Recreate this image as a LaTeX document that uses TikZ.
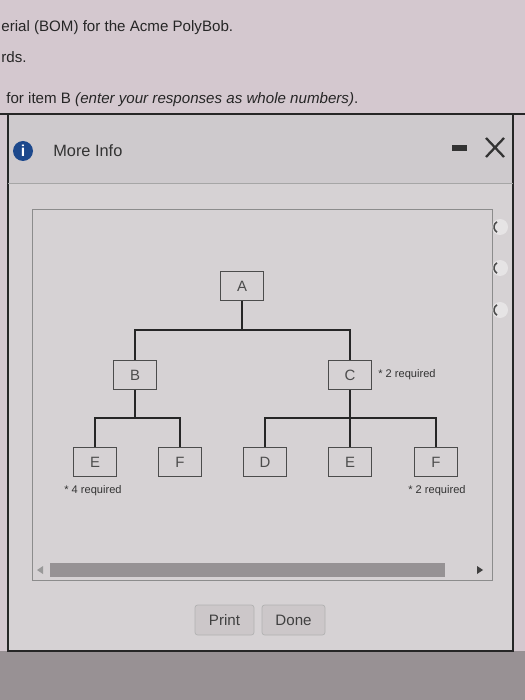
\documentclass[tikz,border=0pt]{standalone}
\usepackage{fontspec}
\setmainfont{Liberation Sans}
\usetikzlibrary{positioning}
\definecolor{pagebg}{RGB}{212,200,207}
\definecolor{headbg}{RGB}{206,202,205}
\definecolor{dlgbg}{RGB}{214,210,212}
\definecolor{outerbg}{RGB}{152,145,148}
\definecolor{infoblue}{RGB}{28,72,140}
\definecolor{thumbc}{RGB}{150,146,148}
\definecolor{btnfill}{RGB}{204,199,201}

\begin{document}
\begin{tikzpicture}[x=0.2mm,y=-0.2mm,
  partbox/.style={draw=black!70,line width=0.5pt,fill=dlgbg,minimum width=8.6mm,minimum height=5.8mm,inner sep=0pt,font=\fontsize{8.5}{10}\selectfont,text=black!70},
  link/.style={line width=1.1pt,draw=black!85},
  note/.style={anchor=west,inner sep=0pt,font=\fontsize{6.3}{7}\selectfont,text=black!80},
  qtext/.style={anchor=base west,inner sep=0pt,font=\fontsize{8.6}{10}\selectfont,text=black!85},
  btn/.style={draw=black!30,fill=btnfill,rounded corners=1.5pt,minimum width=11.8mm,minimum height=6mm,inner sep=0pt,font=\fontsize{8.6}{10}\selectfont,text=black!75}]
\useasboundingbox (0,0) rectangle (525,700);
\fill[pagebg] (0,0) rectangle (525,700);
\fill[outerbg] (0,651) rectangle (525,700);
\fill[headbg] (8,114) rectangle (513,183);
\fill[dlgbg] (8,183) rectangle (513,651);
\node[qtext] (q1) at (1,32) {erial (BOM) for the Acme PolyBob.};
\node[qtext] (q2) at (1,63) {rds.};
\node[qtext] (q3) at (6,104) {for item B \textit{(enter your responses as whole numbers)}.};
\draw[line width=1.2pt,black!85] (0,114) -- (525,114);
\draw[line width=1.2pt,black!85] (8,114) -- (8,651) -- (513,651) -- (513,114);
\draw[black!35] (8,183) -- (513,183);
\node[circle,fill=infoblue,text=white,minimum size=4mm,inner sep=0pt,font=\bfseries\fontsize{9}{9}\selectfont] (info) at (23,151) {i};
\node[anchor=west,inner sep=0pt,font=\fontsize{9.3}{10}\selectfont,text=black!80] (title) at (53,151) {More Info};
\fill[black!80] (452,145) rectangle (467,151);
\draw[line width=1.3pt,black!80] (486,138) -- (504,157) (504,138) -- (486,157);
\draw[black!45,line width=0.4pt] (32,209) rectangle (492,580);
\foreach \yy in {227,268,310} {
  \fill[white,opacity=0.4] (500,\yy) circle (8);
  \draw[black!70,line width=0.9pt] (500,\yy) ++(120:6) arc[start angle=120,end angle=240,radius=6];
}
\node[partbox] (A) at (242,286) {A};
\node[partbox] (B) at (135,375) {B};
\node[partbox] (C) at (350,375) {C};
\node[partbox] (E1) at (95,462) {E};
\node[partbox] (F1) at (180,462) {F};
\node[partbox] (D) at (265,462) {D};
\node[partbox] (E2) at (350,462) {E};
\node[partbox] (F2) at (436,462) {F};
\coordinate (busA) at (242,330);
\coordinate (busB) at (135,418);
\coordinate (busC) at (350,418);
\draw[link] (A) -- (busA) -| (B);
\draw[link] (busA) -| (C);
\draw[black!85,line width=0.6pt] (B) -- (busB);
\draw[link] (busB) -| (E1);
\draw[link] (busB) -| (F1);
\draw[link] (C) -- (busC) -| (D);
\draw[link] (busC) -- (E2);
\draw[link] (busC) -| (F2);
\node[note] (noteC) at (378,375) {* 2 required};
\node[note] (noteE) at (64,491) {* 4 required};
\node[note] (noteF) at (408,491) {* 2 required};
\fill[thumbc] (50,563) rectangle (445,577);
\fill[black!40] (43,566) -- (37,570) -- (43,574) -- cycle;
\fill[black!75] (477,566) -- (483,570) -- (477,574) -- cycle;
\node[btn] (print) at (224.5,620) {Print};
\node[btn,minimum width=12.6mm] (done) at (293.5,620) {Done};
\end{tikzpicture}
\end{document}
